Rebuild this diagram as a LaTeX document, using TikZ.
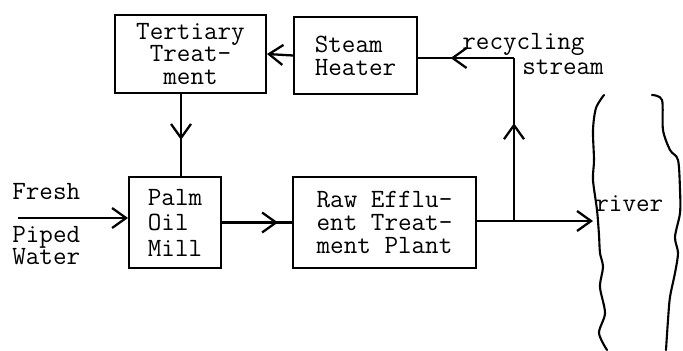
\documentclass[tikz,border=0pt]{standalone}
\usetikzlibrary{arrows.meta,decorations.markings,calc}

\tikzset{
    tw/.style={font=\ttfamily\fontsize{15}{13}\selectfont},
    blok/.style={draw,line width=1.1pt,tw,inner sep=2pt},
    flow/.style={line width=1.3pt,-{Straight Barb[length=2.8mm,width=4mm]}},
    midflow/.style={line width=1.3pt,postaction={decorate},
        decoration={markings,mark=at position #1 with {\arrow{Straight Barb[length=2.8mm,width=4mm]}}}},
    bank/.style={line width=1.2pt,line cap=round}
}

\begin{document}
\begin{tikzpicture}[x=0.02cm,y=-0.02cm]
            \useasboundingbox (0,0) rectangle (683,351);
            % process boxes
            \node[blok,minimum width=3.02cm,minimum height=1.56cm,align=center] (tert) at (190.5,54) {Tertiary\\Treat-\\ment};
            \node[blok,minimum width=2.46cm,minimum height=1.54cm,align=left] (steam) at (355.5,55.5) {Steam\\Heater};
            \node[blok,minimum width=1.84cm,minimum height=1.82cm,align=left] (mill) at (175,222.5) {Palm\\[1.5pt]Oil\\[1.5pt]Mill};
            \node[blok,minimum width=3.66cm,minimum height=1.82cm,align=left] (raw) at (384.5,222.5) {Raw Efflu-\\ent Treat-\\ment Plant};
            % labels
            \node[tw,anchor=base west,inner sep=0pt] (fresh) at (12,200) {Fresh};
            \node[tw,anchor=base west,align=left,inner sep=0pt] (piped) at (12,265) {Piped\\Water};
            \node[tw,anchor=base west,inner sep=0pt] (recyc) at (462,50) {recycling};
            \node[tw,anchor=base west,inner sep=0pt] (strm) at (522,75) {stream};
            \node[tw,anchor=base west,inner sep=0pt] (river) at (595,212) {river};
            % flows
            \coordinate (inlet) at (18,218);
            \coordinate (outlet) at (593,221);
            \coordinate (split) at (514,221);
            \coordinate (turn) at (514,58);
            \draw[flow] (inlet) -- (inlet -| mill.west);
            \draw[midflow=0.8] (mill.east) -- (raw.west);
            \draw[flow] (raw.east |- outlet) -- (outlet);
            \draw[midflow=0.6] (split) -- (turn);
            \draw[midflow=0.66] (turn) -- (turn -| steam.east);
            \draw[flow] (steam.west) -- (tert.east);
            \draw[midflow=0.56] ([xshift=-0.19cm]tert.south) -- ([xshift=-0.19cm]tert.south |- mill.north);
            % river banks
            \draw[bank] plot[smooth] coordinates {(604,95) (596,108) (593,130) (594,160) (593,180) (597,210)
                (599,235) (600,253) (603,267) (600,287) (605,313) (599,333) (607,350)};
            \draw[bank] plot[smooth] coordinates {(652,95) (662,100) (663,130) (670,150) (678,160) (680,190)
                (680,213) (675,237) (678,253) (675,273) (670,297) (668,320) (666,350)};
        \end{tikzpicture}
\end{document}
